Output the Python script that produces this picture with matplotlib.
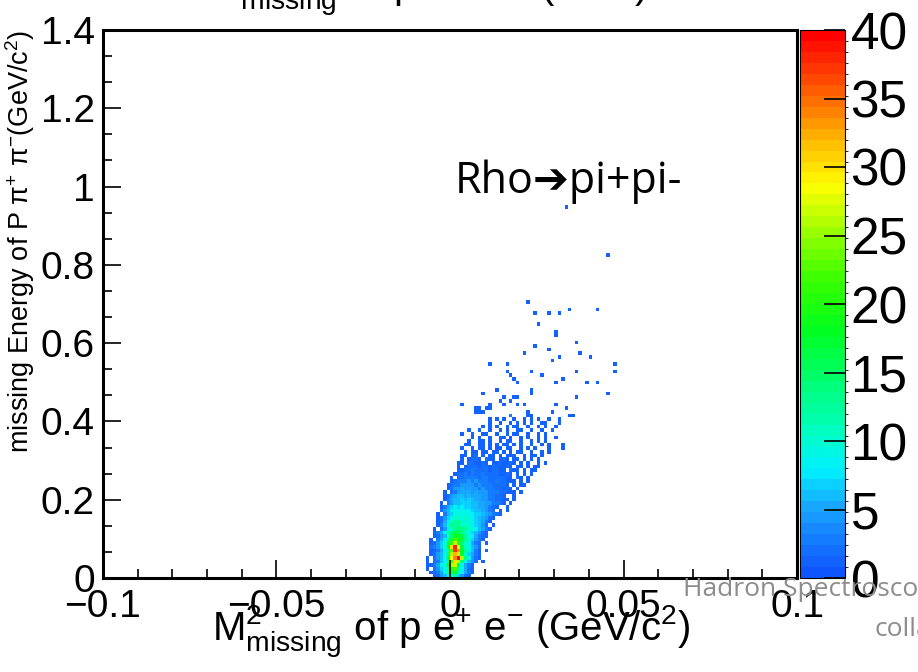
import numpy as np
import matplotlib
matplotlib.use("Agg")
import matplotlib.pyplot as plt
from matplotlib.colors import LinearSegmentedColormap, ListedColormap, BoundaryNorm
from matplotlib.ticker import MultipleLocator, FuncFormatter

plt.rcParams['font.family'] = ['Liberation Sans', 'DejaVu Sans']
plt.rcParams['mathtext.fontset'] = 'custom'
plt.rcParams['mathtext.rm'] = 'Liberation Sans'
plt.rcParams['mathtext.it'] = 'Liberation Sans:italic'
plt.rcParams['mathtext.default'] = 'regular'

# binning of the 2D histogram
x_edges = np.linspace(-0.1, 0.1, 201)
y_edges = np.linspace(0.0, 1.4, 151)
col0 = 92  # column of x = -0.008

# dense block, one entry per y-bin starting at y=0: (first column, counts)
# '.' = empty, 1-9, a=10 ... z=35, A=36 ... E=40
dense_rows = [
    (3, "1246a9c7421"),
    (2, "12359cfhb8531"),
    (1, "1.2479dkmc9521"),
    (1, "11358bhqrg9531"),
    (1, "1.2368eluqe9642.1"),
    (1, "1.2469hsyEqd8421"),
    (2, "12469fqwuhb7531"),
    (2, "11358enBxic8631.1"),
    (2, "2347bjuCsgb9642"),
    (2, "1247aglrkfb8532.1"),
    (2, "1.358dhmkhda7431"),
    (3, "1246bfjhgc985321"),
    (3, "1359cegfeb976421"),
    (3, "1.248bdfdcb986531"),
    (4, "136adcebb987642.1"),
    (4, "1258bcdb9a876531"),
    (4, "12479ab9a98765421"),
    (4, "1.3679a998877654321"),
    (5, "2468898887665432.1.1"),
    (5, "13578787766554321..1"),
    (5, "1.34667776655443321.1"),
    (6, "1356676765544332211.1"),
    (6, "124566565554433221..1"),
    (6, "1.2345554544433322111.1"),
    (7, "1244545443433322121.1"),
    (7, "123344443433322221.1.11"),
    (8, "1233343433322322111.1.1"),
    (8, "1.2233332332222211.21.1"),
    (9, "12232322322221121.1.1.1"),
    (10, "11223222212211.211.1.11"),
    (10, "1.12221221221121.11.1.11"),
    (10, "11.221121.1121121.1.1..1.1"),
    (11, "1.1221.211.121.11.1.1.1"),
    (11, "11.12.1.11.1.111..1.11.1"),
    (12, "1.11.11.11.1.1.11..1..1.1"),
    (11, "1..1.11.1.11.11..1.1.1...1...1"),
    (12, "11..11.1.1.11.1.1..1..1.1...1"),
    (13, "1..11.1..1.11..1..1.1.1"),
    (14, "1.1..1..11.1..1.1..1.1..1"),
    (11, "1..1..11..1..1.11..1..1.1"),
    (13, "1..1..1..1.1..11..1..1..1"),
    (17, "1.1.1..1.11..1..1.1..1"),
    (19, "1..1..1.1.1.1..11...1"),
    (19, "1.1.1..1..1.1.1..1..1"),
]

# scattered cells above the dense block
sparse_cols = [25, 30, 31, 42, 43, 15, 16, 17, 30, 37, 15, 16, 18, 19, 41,
               11, 19, 23, 27, 29, 38, 22, 25, 23, 26, 27, 44, 17, 31, 53,
               21, 31, 27, 38, 47, 50, 26, 40, 25, 34, 24, 31, 44, 55,
               19, 24, 55, 37, 39, 48, 29, 45, 36, 32, 44, 38, 38, 33,
               32, 36, 39, 42, 50, 30, 53, 41]
sparse_rows = [44, 44, 44, 44, 44, 45, 45, 45, 45, 45, 46, 46, 46, 46, 46,
               47, 47, 47, 47, 47, 47, 48, 48, 49, 49, 49, 49, 50, 50, 50,
               51, 51, 53, 53, 53, 53, 54, 54, 55, 55, 56, 56, 56, 56,
               58, 58, 58, 59, 60, 60, 61, 61, 62, 63, 64, 66, 67, 69,
               72, 72, 72, 73, 73, 75, 88, 101]
sparse_counts = [3] + [1] * (len(sparse_cols) - 1)

code = "0123456789abcdefghijklmnopqrstuvwxyzABCDE"
H = np.zeros((len(y_edges) - 1, len(x_edges) - 1))
for r, (start, s) in enumerate(dense_rows):
    for k, ch in enumerate(s):
        if ch != '.':
            H[r, col0 + start + k] = code.index(ch)
for c, r, n in zip(sparse_cols, sparse_rows, sparse_counts):
    H[r, col0 + c] = n
Hm = np.ma.masked_where(H <= 0, H)

# ROOT-like rainbow palette, 50 levels
anchors = [(0.00, (15, 85, 255)), (0.12, (25, 165, 255)), (0.19, (0, 240, 255)),
           (0.26, (0, 255, 195)), (0.35, (0, 255, 120)), (0.45, (0, 255, 30)),
           (0.55, (60, 255, 0)), (0.63, (150, 255, 0)), (0.72, (255, 255, 0)),
           (0.80, (255, 190, 0)), (0.88, (255, 110, 0)), (1.00, (255, 0, 0))]
base = LinearSegmentedColormap.from_list(
    'root', [(p, tuple(v / 255 for v in c)) for p, c in anchors])
cmap = ListedColormap(base(np.linspace(0, 1, 50)))
norm = BoundaryNorm(np.linspace(0, 40, 51), 50)

W, Hpx = 918, 672
fig = plt.figure(figsize=(W / 100, Hpx / 100), dpi=100)
ax = fig.add_axes([103 / W, 1 - 578 / Hpx, (797 - 103) / W, (578 - 30) / Hpx])
cax = fig.add_axes([800 / W, 1 - 578 / Hpx, 45 / W, (578 - 30) / Hpx])

mesh = ax.pcolormesh(x_edges, y_edges, Hm, cmap=cmap, norm=norm)
ax.set_xlim(-0.1, 0.1)
ax.set_ylim(0, 1.4)

fmt = FuncFormatter(lambda v, p: ('%g' % round(v, 4)).replace('-', '\u2212'))
ax.xaxis.set_major_locator(MultipleLocator(0.05))
ax.xaxis.set_minor_locator(MultipleLocator(0.01))
ax.yaxis.set_major_locator(MultipleLocator(0.2))
ax.yaxis.set_minor_locator(MultipleLocator(0.2 / 3))
ax.xaxis.set_major_formatter(fmt)
ax.yaxis.set_major_formatter(fmt)
ax.tick_params(which='both', direction='in', top=False, right=False,
               width=1.2, labelsize=28)
ax.tick_params(which='major', length=13)
ax.tick_params(which='minor', length=6.5)
ax.tick_params(axis='x', pad=8)
ax.tick_params(axis='y', pad=6)
for sp in ax.spines.values():
    sp.set_linewidth(2.2)

cb = fig.colorbar(mesh, cax=cax, ticks=range(0, 41, 5))
cb.outline.set_linewidth(0.8)
cax.tick_params(direction='in', length=15, width=1.2, labelsize=37, pad=4)

fig.text(451 / W, 1 - 641 / Hpx,
         r'M$^{2}_{missing}$ of p e$^{+}$ e$^{-}$ (GeV/c$^{2}$)',
         ha='center', va='baseline', fontsize=29)
fig.text(20 / W, 1 - 30 / Hpx,
         r'missing Energy of P $\pi^{+}$ $\pi^{-}$(GeV/c$^{2}$)',
         rotation=90, ha='center', va='top', fontsize=19.5)
fig.text(207 / W, 1 + 1 / Hpx,
         r'M$^{2}_{missing}$ of p $\pi^{+}$ $\pi^{-}$ (GeV)',
         ha='left', va='baseline', fontsize=29)

fig.text(455 / W, 1 - 193 / Hpx, 'Rho\u2794pi+pi-', fontsize=31,
         family=['Open Sans', 'DejaVu Sans'])
fig.text(683 / W, 1 - 596 / Hpx, 'Hadron Spectroscopy', fontsize=19,
         color='#8c8c8c', family=['Open Sans', 'DejaVu Sans'])
fig.text(875 / W, 1 - 636 / Hpx, 'collaboration', fontsize=19,
         color='#8c8c8c', family=['Open Sans', 'DejaVu Sans'])

fig.savefig('out.png', dpi=100)
